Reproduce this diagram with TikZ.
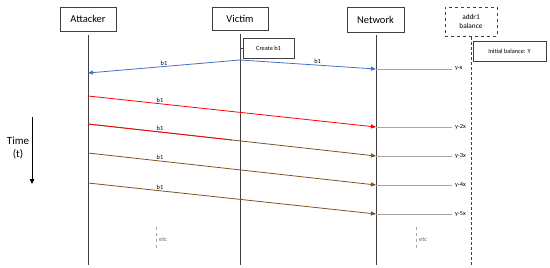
\documentclass[tikz,border=0pt]{standalone}
\usepackage{fontspec}
\setmainfont{Carlito}
\usetikzlibrary{arrows.meta}
\definecolor{lifeg}{HTML}{404040}
\definecolor{msgblue}{HTML}{4472C4}
\definecolor{msgred}{HTML}{FF0000}
\definecolor{msgbrown}{HTML}{7A5426}
\definecolor{balg}{HTML}{A6A6A6}
\begin{document}
\begin{tikzpicture}[x=1pt,y=-1pt,
  actor/.style={draw=lifeg,line width=0.7pt,minimum width=56pt,minimum height=24pt,inner sep=0pt,font=\fontsize{10.5}{12}\selectfont},
  note/.style={draw=lifeg,line width=0.6pt,inner sep=0pt,font=\fontsize{6.3}{7.5}\selectfont},
  life/.style={draw=lifeg,line width=0.7pt},
  msg/.style={line width=0.8pt,-{Triangle[length=5pt,width=4pt]}},
  lbl/.style={font=\fontsize{6.3}{7.5}\selectfont,inner sep=1pt,text=black},
  bal/.style={draw=balg,line width=1pt,shorten >=3pt},
  ballbl/.style={font=\fontsize{6.3}{7.5}\selectfont,inner sep=0pt,anchor=west},
  etcline/.style={draw=gray!70,dashed,line width=0.6pt}]
\useasboundingbox (0,0) rectangle (550,268);
% actors
\node[actor] (att) at (88,19) {Attacker};
\node[actor,minimum height=23pt] (vic) at (240,18.5) {Victim};
\node[actor,minimum width=57pt,minimum height=25pt] (net) at (375.5,19.5) {Network};
\node[actor,dashed,minimum width=52pt,minimum height=29pt,align=center,font=\fontsize{7.3}{9}\selectfont] (adr) at (471,21.5) {addr1\\balance};
% lifeline ends
\coordinate (attS) at (88,35);
\coordinate (attE) at (88,265);
\coordinate (vicS) at (240,34);
\coordinate (vicE) at (240,265);
\coordinate (netS) at (376,35);
\coordinate (netE) at (376,265);
\coordinate (adrS) at (471,37);
\coordinate (adrE) at (471,265);
\draw[life] (attS) -- (attE);
\draw[life] (vicS) -- (vicE);
\draw[life] (netS) -- (netE);
\draw[lifeg,densely dashed,line width=0.8pt] (adrS) -- (adrE);
% notes
\node[note,minimum width=51pt,minimum height=20pt] (cre) at (268.5,48) {Create b1};
\coordinate (creT) at (240,48);
\draw[lifeg,line width=0.6pt] (creT) -- (cre.west);
\node[note,minimum width=73pt,minimum height=20pt] (ini) at (509.5,51) {Initial balance: Y};
% message points
\coordinate (v1) at (240,60);
\coordinate (a1) at (88,73);
\coordinate (n1) at (376,69);
\coordinate (a2) at (88,96);
\coordinate (n2) at (376,127);
\coordinate (a3) at (88,124);
\coordinate (n3) at (376,156);
\coordinate (m3) at (232,140);
\coordinate (a4) at (88,153);
\coordinate (n4) at (376,185);
\coordinate (a5) at (88,183);
\coordinate (n5) at (376,214);
% blue
\draw[msg,msgblue] (v1) -- node[lbl,above,pos=0.5] {b1} (a1);
\draw[msg,msgblue] (v1) -- node[lbl,above,pos=0.57] {b1} (n1);
% red / brown
\draw[msg,msgred] (a2) -- node[lbl,above,pos=0.25] {b1} (n2);
\draw[msg,msgbrown] (a3) -- (n3);
\draw[line width=0.8pt,msgred] (a3) -- node[lbl,above,pos=0.5] {b1} (m3);
\draw[msg,msgbrown] (a4) -- node[lbl,above,pos=0.25] {b1} (n4);
\draw[msg,msgbrown] (a5) -- node[lbl,above,pos=0.25] {b1} (n5);
% balance lines
\node[ballbl] (bl1) at (455,69) {y-x};
\node[ballbl] (bl2) at (455,127) {y-2x};
\node[ballbl] (bl3) at (455,156) {y-3x};
\node[ballbl] (bl4) at (455,185) {y-4x};
\node[ballbl] (bl5) at (455,214) {y-5x};
\draw[bal] (n1) -- (bl1.west);
\draw[bal] (n2) -- (bl2.west);
\draw[bal] (n3) -- (bl3.west);
\draw[bal] (n4) -- (bl4.west);
\draw[bal] (n5) -- (bl5.west);
% time arrow
\coordinate (t1) at (32,117);
\coordinate (t2) at (32,184);
\draw[line width=0.8pt,-{Triangle[length=5pt,width=4.5pt]}] (t1) -- (t2);
\node[font=\fontsize{11}{13}\selectfont,align=center] (time) at (18,148) {Time\\(t)};
% etc
\coordinate (e1a) at (156,227);
\coordinate (e1b) at (156,251);
\draw[etcline] (e1a) -- (e1b);
\node[lbl,anchor=west,text=gray!80!black] (etc1) at (158,240) {etc};
\coordinate (e2a) at (416,227);
\coordinate (e2b) at (416,251);
\draw[etcline] (e2a) -- (e2b);
\node[lbl,anchor=west,text=gray!80!black] (etc2) at (418,240) {etc};
\end{tikzpicture}
\end{document}
